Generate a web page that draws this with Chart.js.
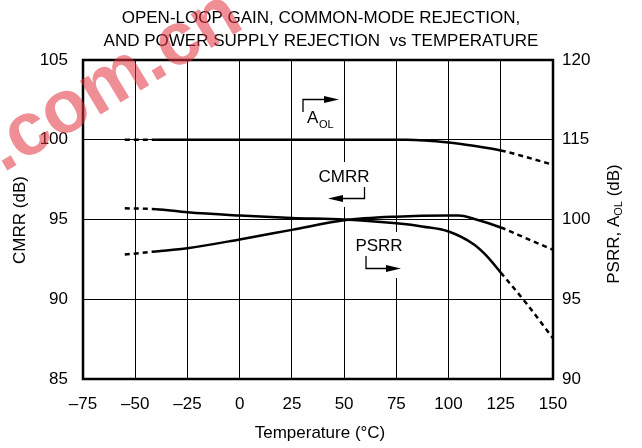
<!DOCTYPE html>
<html>
<head>
<title>Open-Loop Gain, CMRR and PSRR vs Temperature</title>
<script src="https://cdn.jsdelivr.net/npm/chart.js"></script>
<style>
  body { margin: 0; background: #fff; }
</style>
</head>
<body>
<canvas id="tempChart" width="642" height="448"></canvas>

<script>
// values
const aolTemps  = [-55, -40, 0, 50, 80, 100, 112, 125, 137.5, 150];
const aolDb     = [115, 115, 115, 115, 115, 114.83, 114.62, 114.33, 113.9, 113.43];

const cmrrTemps = [-55, -40, -25, 0, 25, 50, 75, 100, 105, 112, 125, 137.5, 150];
const cmrrDb    = [92.8, 93.0, 93.2, 93.75, 94.35, 94.95, 95.18, 95.25, 95.25, 95.05, 94.5, 93.8, 93.1];

const psrrTemps = [-55, -40, -25, 0, 25, 50, 75, 88, 100, 112, 118, 125, 137.5, 150];
const psrrDb    = [100.7, 100.65, 100.45, 100.25, 100.1, 100.0, 99.76, 99.55, 99.25, 98.45, 97.75, 96.67, 94.7, 92.55];

const FONT = '"Liberation Sans", Arial, Helvetica, sans-serif';
const tickFont = { family: FONT, size: 17 };

// measured region: dashed below -40 C and above 125 C
const dashOutside = ctx =>
    (ctx.p0.parsed.x < -40 || ctx.p0.parsed.x >= 125) ? [5, 4] : undefined;

function toPoints(xs, ys) {
    return xs.map((x, i) => ({ x: x, y: ys[i] }));
}

function lineSet(label, xs, ys, axis) {
    return {
        label: label,
        data: toPoints(xs, ys),
        yAxisID: axis,
        borderColor: '#000',
        borderWidth: 2.5,
        pointRadius: 0,
        fill: false,
        cubicInterpolationMode: 'monotone',
        segment: { borderDash: dashOutside }
    };
}

function arrowHead(c, x, y, dir) {
    c.beginPath();
    c.moveTo(x, y);
    c.lineTo(x - dir * 15, y - 3.5);
    c.lineTo(x - dir * 15, y + 3.5);
    c.closePath();
    c.fill();
}

const decorations = {
    id: 'decorations',
    beforeDatasetsDraw(chart) {
        const c = chart.ctx;
        const a = chart.chartArea;
        c.save();
        // label boxes break the grid lines
        c.fillStyle = '#fff';
        c.fillRect(322, 162, 52, 45);
        c.fillRect(352, 232, 56, 46);

        c.fillStyle = '#000';
        c.strokeStyle = '#000';
        c.lineWidth = 1.3;
        c.font = '17px ' + FONT;
        c.textBaseline = 'alphabetic';

        // A_OL
        c.beginPath();
        c.moveTo(303, 112); c.lineTo(303, 99.5); c.lineTo(326, 99.5);
        c.stroke();
        arrowHead(c, 339, 99.5, 1);
        c.textAlign = 'left';
        c.fillText('A', 307, 123);
        c.font = '11px ' + FONT;
        c.fillText('OL', 319, 128);

        // CMRR
        c.font = '17px ' + FONT;
        c.textAlign = 'center';
        c.fillText('CMRR', 344, 182);
        c.beginPath();
        c.moveTo(364.5, 187); c.lineTo(364.5, 198.5); c.lineTo(340, 198.5);
        c.stroke();
        arrowHead(c, 328, 198.5, -1);

        // PSRR
        c.fillText('PSRR', 379, 251);
        c.beginPath();
        c.moveTo(366, 256); c.lineTo(366, 268.5); c.lineTo(388, 268.5);
        c.stroke();
        arrowHead(c, 401, 268.5, 1);

        // plot frame
        c.lineWidth = 2.5;
        c.strokeRect(a.left, a.top, a.right - a.left, a.bottom - a.top);
        c.restore();
    },
    afterDraw(chart) {
        const c = chart.ctx;
        c.save();
        c.fillStyle = '#000';
        c.textBaseline = 'middle';
        c.textAlign = 'center';
        c.font = '17px ' + FONT;

        // title
        c.fillText('OPEN-LOOP GAIN, COMMON-MODE REJECTION,', 321, 18);
        c.fillText('AND POWER SUPPLY REJECTION  vs TEMPERATURE', 321, 41);

        // axis titles
        c.fillText('Temperature (\u00B0C)', 320, 433);

        c.save();
        c.translate(20, 220);
        c.rotate(-Math.PI / 2);
        c.fillText('CMRR (dB)', 0, 0);
        c.restore();

        c.save();
        c.translate(614, 224);
        c.rotate(-Math.PI / 2);
        const p1 = 'PSRR, A', p3 = ' (dB)';
        c.font = '17px ' + FONT;
        const w1 = c.measureText(p1).width, w3 = c.measureText(p3).width;
        c.font = '11px ' + FONT;
        const w2 = c.measureText('OL').width;
        let x = -(w1 + w2 + w3) / 2;
        c.textAlign = 'left';
        c.font = '17px ' + FONT;
        c.fillText(p1, x, 0);
        c.font = '11px ' + FONT;
        c.fillText('OL', x + w1, 5);
        c.font = '17px ' + FONT;
        c.fillText(p3, x + w1 + w2, 0);
        c.restore();

        // site watermark
        c.save();
        c.translate(3, 173);
        c.rotate(-31 * Math.PI / 180);
        c.textAlign = 'left';
        c.textBaseline = 'alphabetic';
        c.font = 'bold 75px ' + FONT;
        c.fillStyle = 'rgba(225, 50, 60, 0.55)';
        c.fillText('.com.cn', 0, 0);
        c.restore();

        c.restore();
    }
};

const chart = new Chart(document.getElementById('tempChart').getContext('2d'), {
    type: 'line',
    data: {
        datasets: [
            lineSet('AOL', aolTemps, aolDb, 'yAol'),
            lineSet('CMRR', cmrrTemps, cmrrDb, 'y'),
            lineSet('PSRR', psrrTemps, psrrDb, 'yPsrr')
        ]
    },
    options: {
        responsive: false,
        animation: false,
        devicePixelRatio: 1,
        layout: { padding: { top: 60, left: 0, right: 0, bottom: 0 } },
        plugins: {
            legend: { display: false },
            tooltip: { enabled: false },
            title: { display: false }
        },
        scales: {
            x: {
                type: 'linear',
                min: -75,
                max: 150,
                ticks: {
                    stepSize: 25,
                    padding: 15,
                    color: '#000',
                    font: tickFont,
                    callback: v => String(v).replace('-', '\u2013')
                },
                grid: { color: '#000', lineWidth: 1, drawTicks: false },
                border: { display: false },
                afterFit: s => { s.height = 69; }
            },
            y: {
                position: 'left',
                min: 85,
                max: 105,
                ticks: { stepSize: 5, padding: 15, color: '#000', font: tickFont },
                grid: { color: '#000', lineWidth: 1, drawTicks: false },
                border: { display: false },
                afterFit: s => { s.width = 83; }
            },
            yPsrr: {
                position: 'right',
                min: 90,
                max: 110,
                ticks: {
                    stepSize: 5,
                    padding: 9,
                    color: '#000',
                    font: tickFont,
                    // upper two grid steps are the A_OL scale (115, 120)
                    callback: v => v > 100 ? String(v + 10) : String(v)
                },
                grid: { drawOnChartArea: false, drawTicks: false },
                border: { display: false },
                afterFit: s => { s.width = 89; }
            },
            yAol: {
                display: false,
                min: 100,
                max: 120
            }
        }
    },
    plugins: [decorations]
});
</script>
</body>
</html>
